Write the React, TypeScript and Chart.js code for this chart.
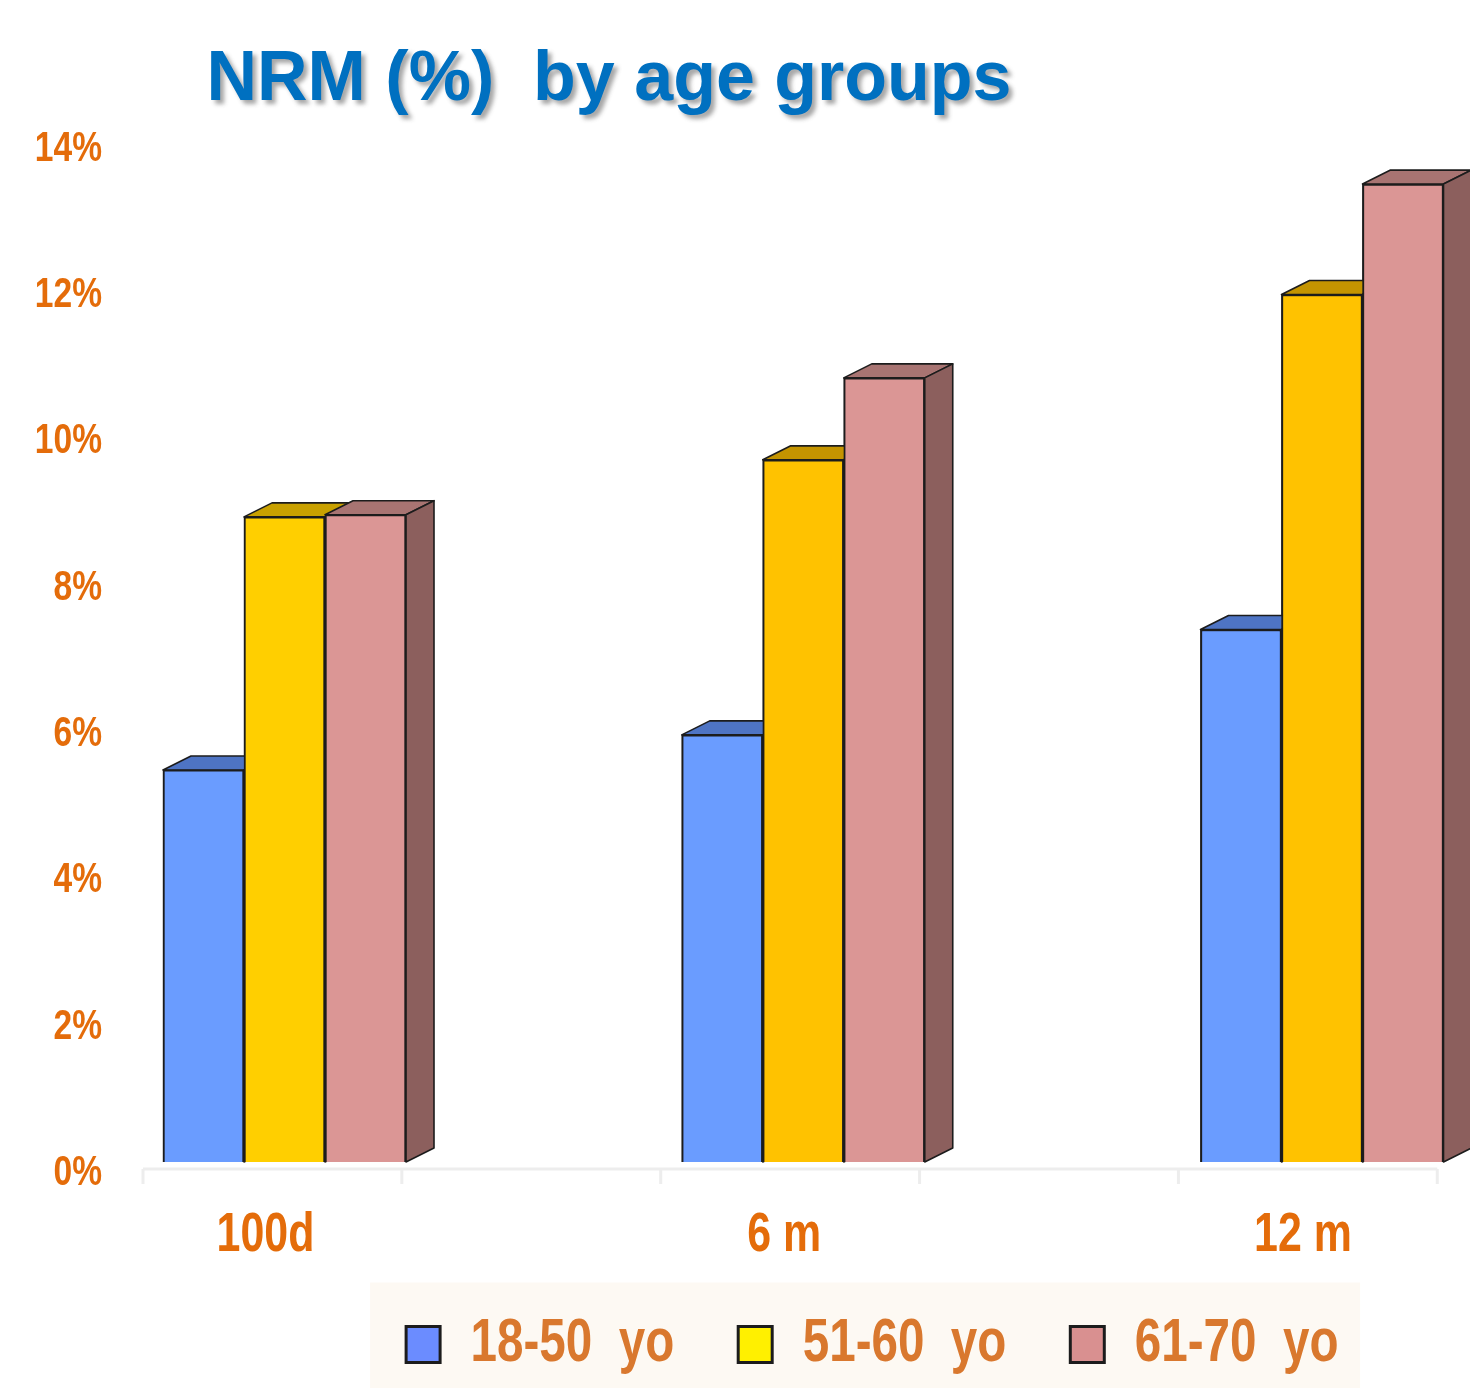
import React, { useEffect, useRef } from "react";
import { Chart, registerables } from "chart.js";

Chart.register(...registerables);

// ---------- data ----------
const TITLE = "NRM (%)  by age groups";
const CATEGORIES = ["100d", "6 m", "12 m"];
const SERIES_NAMES = ["18-50  yo", "51-60  yo", "61-70  yo"];
const NRM_18_50 = [5.36, 5.84, 7.28];
const NRM_51_60 = [8.82, 9.6, 11.86];
const NRM_61_70 = [8.85, 10.72, 13.37];
const Y_TICK_VALUES = [0, 2, 4, 6, 8, 10, 12, 14];

// ---------- styles ----------
const FRONT_COLORS: (string | string[])[] = ["#6A9CFF", ["#FFCF00", "#FFC200", "#FFC200"], "#DB9695"];
const TOP_COLORS: string[][] = [
  ["#4E74C4", "#4E74C4", "#4E74C4"],
  ["#C9A100", "#C49400", "#C49400"],
  ["#A87472", "#A87472", "#A87472"],
];
const SIDE_COLORS = ["#3E5E9E", "#A88000", "#8C5F5D"];
const LEGEND_FILLS = ["#6B8CFF", "#FFF000", "#D99090"];
const EDGE = "#1c1c1c";
const ORANGE = "#E46C0A";
const LEGEND_TEXT = "#D9782E";
const TITLE_BLUE = "#0070C0";
// "Narrowed" is a marker family (not installed): text in this family is drawn horizontally condensed
const NARROW = '"Liberation Sans", Arial, "Narrowed", sans-serif';
const SQUEEZE = 0.78;

// ---------- layout ----------
const VIEW_W = 1470;
const CANVAS_W = 1802;
const CANVAS_H = 1388;
const PLOT_LEFT = 143;
const PLOT_TOP = 138;
const PLOT_BOTTOM = 1162;
const PAD_BOTTOM = 3;
const FIRST_CENTER = 284.5;
const GROUP_PITCH = 518.75;
const BAR_W = 81;
const DEPTH_X = 28;
const DEPTH_Y = 14;
const X_MIN = (PLOT_LEFT - FIRST_CENTER) / GROUP_PITCH;
const X_MAX = X_MIN + (CANVAS_W - PLOT_LEFT) / GROUP_PITCH;
const AXIS_TICK_STEP = 0.499;

function poly(ctx: CanvasRenderingContext2D, pts: number[][], fill: string) {
  ctx.beginPath();
  ctx.moveTo(pts[0][0], pts[0][1]);
  for (let i = 1; i < pts.length; i++) ctx.lineTo(pts[i][0], pts[i][1]);
  ctx.closePath();
  ctx.fillStyle = fill;
  ctx.fill();
  ctx.stroke();
}

function condenseText(ctx: any) {
  if (ctx.__condensed) return;
  ctx.__condensed = true;
  const orig = ctx.fillText;
  ctx.fillText = function (text: string, x: number, y: number, maxWidth?: number) {
    if (!String(this.font).includes("Narrowed")) {
      return maxWidth === undefined ? orig.call(this, text, x, y) : orig.call(this, text, x, y, maxWidth);
    }
    this.save();
    this.translate(x, y);
    this.scale(SQUEEZE, 1);
    if (maxWidth === undefined) orig.call(this, text, 0, 0);
    else orig.call(this, text, 0, 0, maxWidth / SQUEEZE);
    this.restore();
  };
}

const bar3d = {
  id: "bar3d",
  beforeDraw(chart: any) {
    const { ctx } = chart;
    const hb = chart.legend && chart.legend.legendHitBoxes;
    if (hb && hb.length) {
      const first = hb[0];
      const cy = first.top + first.height / 2;
      ctx.save();
      ctx.fillStyle = "#FDF9F3";
      ctx.fillRect(first.left - 36, cy - 62, 990, chart.height - (cy - 62));
      ctx.restore();
    }
  },
  beforeDatasetsDraw(chart: any) {
    const { ctx } = chart;
    const xs = chart.scales.x;
    const ys = chart.scales.y;
    const y0 = ys.getPixelForValue(0) + 7;
    const ticks: number[] = [];
    for (let k = 0; k <= 5; k++) ticks.push(xs.getPixelForValue(xs.min + k * AXIS_TICK_STEP));
    ctx.save();
    ctx.strokeStyle = "#EDEDED";
    ctx.lineWidth = 3;
    ctx.beginPath();
    ctx.moveTo(ticks[0], y0);
    ctx.lineTo(ticks[ticks.length - 1], y0);
    ticks.forEach((t) => {
      ctx.moveTo(t, y0);
      ctx.lineTo(t, y0 + 15);
    });
    ctx.stroke();
    ctx.restore();
  },
  afterDatasetsDraw(chart: any) {
    const { ctx } = chart;
    chart.data.datasets.forEach((_ds: any, di: number) => {
      const meta = chart.getDatasetMeta(di);
      if (meta.hidden) return;
      meta.data.forEach((el: any, i: number) => {
        const { x, y, base, width } = el.getProps(["x", "y", "base", "width"], true);
        const l = x - width / 2;
        const r = x + width / 2;
        ctx.save();
        ctx.strokeStyle = EDGE;
        ctx.lineWidth = 1.6;
        ctx.lineJoin = "round";
        poly(ctx, [[l, y], [l + DEPTH_X, y - DEPTH_Y], [r + DEPTH_X, y - DEPTH_Y], [r, y]], TOP_COLORS[di][i]);
        poly(ctx, [[r, y], [r + DEPTH_X, y - DEPTH_Y], [r + DEPTH_X, base - DEPTH_Y], [r, base]], SIDE_COLORS[di]);
        ctx.restore();
        el.draw(ctx);
      });
    });
  },
  afterDraw(chart: any) {
    const { ctx } = chart;
    ctx.save();
    ctx.font = 'bold 70px "Liberation Sans", Arial, sans-serif';
    ctx.fillStyle = TITLE_BLUE;
    ctx.textAlign = "center";
    ctx.textBaseline = "alphabetic";
    ctx.shadowColor = "rgba(60,60,60,0.45)";
    ctx.shadowOffsetX = 4;
    ctx.shadowOffsetY = 4;
    ctx.shadowBlur = 4;
    ctx.fillText(TITLE, 609, 100);
    ctx.restore();
  },
};

export default function App() {
  const ref = useRef<HTMLCanvasElement | null>(null);

  useEffect(() => {
    if (!ref.current) return;
    condenseText(ref.current.getContext("2d"));
    const series = [NRM_18_50, NRM_51_60, NRM_61_70];
    const chart = new Chart(ref.current, {
      type: "bar",
      data: {
        datasets: series.map((vals, di) => ({
          label: SERIES_NAMES[di],
          data: vals.map((v, i) => ({ x: i, y: v })),
          backgroundColor: FRONT_COLORS[di] as any,
          borderColor: EDGE,
          borderWidth: 2,
          barThickness: BAR_W,
        })),
      },
      options: {
        animation: false,
        responsive: false,
        layout: { padding: { top: PLOT_TOP, left: 0, right: 0, bottom: PAD_BOTTOM } },
        scales: {
          x: {
            type: "linear",
            offset: false,
            min: X_MIN,
            max: X_MAX,
            afterBuildTicks: (s: any) => {
              s.ticks = CATEGORIES.map((_c, i) => ({ value: i }));
            },
            afterFit: (s: any) => {
              const lh = s.chart.legend ? s.chart.legend.height : 0;
              s.height = s.chart.height - PAD_BOTTOM - lh - PLOT_BOTTOM;
            },
            ticks: {
              autoSkip: false,
              maxRotation: 0,
              padding: 33,
              labelOffset: -19,
              color: ORANGE,
              font: { family: NARROW, size: 55, weight: "bold" },
              callback: (v: any) => CATEGORIES[Math.round(Number(v))] ?? "",
            },
            grid: { display: false },
            border: { display: false },
          },
          y: {
            min: 0,
            max: 14,
            afterBuildTicks: (s: any) => {
              s.ticks = Y_TICK_VALUES.map((v) => ({ value: v }));
            },
            afterFit: (s: any) => {
              s.width = PLOT_LEFT;
            },
            ticks: {
              padding: 41,
              labelOffset: 11,
              color: ORANGE,
              font: { family: NARROW, size: 43, weight: "bold" },
              callback: (v: any) => `${v}%`,
            },
            grid: { display: false, drawTicks: false },
            border: { display: false },
          },
        },
        plugins: {
          title: { display: false },
          tooltip: { enabled: false },
          legend: {
            position: "bottom",
            labels: {
              boxWidth: 34,
              boxHeight: 36,
              padding: 6.5,
              color: LEGEND_TEXT,
              font: { family: NARROW, size: 61, weight: "bold" },
              sort: (a: any, b: any) => a.datasetIndex - b.datasetIndex,
              generateLabels: (c: any) =>
                (Chart.defaults.plugins.legend.labels.generateLabels as any)(c).map((item: any, i: number) => ({
                  ...item,
                  fillStyle: LEGEND_FILLS[i],
                  strokeStyle: EDGE,
                  lineWidth: 3,
                })),
            },
          },
        },
      } as any,
      plugins: [bar3d],
    });
    return () => chart.destroy();
  }, []);

  return (
    <div
      style={{
        position: "absolute",
        left: 0,
        top: 0,
        width: VIEW_W,
        height: CANVAS_H,
        overflow: "hidden",
        background: "#ffffff",
      }}
    >
      <canvas ref={ref} width={CANVAS_W} height={CANVAS_H} style={{ display: "block" }} />
    </div>
  );
}
